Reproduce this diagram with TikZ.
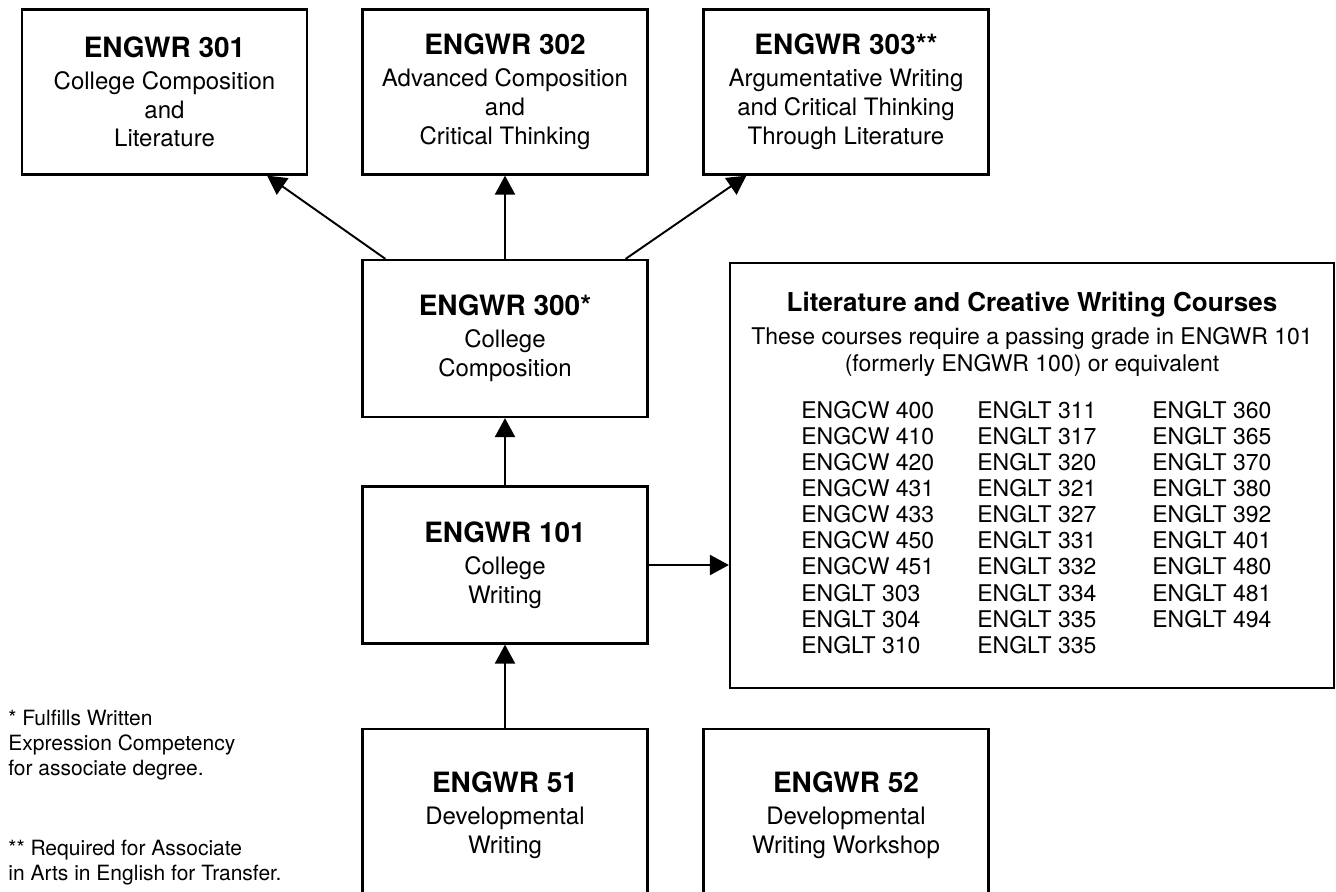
\documentclass[tikz,border=0pt]{standalone}
\usepackage{fontspec}
\setmainfont{TeX Gyre Heros}
\usetikzlibrary{calc,arrows.meta}
\def\pxfont#1#2{\fontsize{#1}{#2}\selectfont}
\def\ctitle#1{{\pxfont{15.93}{18}\bfseries #1}\\[1.5pt]}
\tikzset{
	course/.style={draw, line width=1.3pt, minimum width=5.7cm, inner sep=0pt, align=center, font=\pxfont{13.66}{16.5}},
	toprow/.style={course, minimum height=3.3cm},
	midrow/.style={course, minimum height=3.14cm},
	lowrow/.style={course, minimum height=3.44cm},
	prereq/.style={line width=1.1pt, -{Triangle[length=10.8pt,width=11.4pt]}},
	listitem/.style={anchor=west, inner sep=0pt, font=\pxfont{13.09}{14.85}},
	footnote/.style={anchor=west, inner sep=0pt, align=left, font=\pxfont{11.95}{14.2}}
}

\begin{document}
\begin{tikzpicture}[x=0.02cm, y=-0.02cm]
		%%%%% START %%%%%
		\useasboundingbox (0, 0) rectangle (1336, 892);
		
		\node[toprow] (e301) at (164.5, 92) {\ctitle{ENGWR 301}College Composition\\and\\Literature};
		\node[toprow] (e302) at (505, 92) {\ctitle{ENGWR 302}Advanced Composition\\and\\Critical Thinking};
		\node[toprow] (e303) at (846, 92) {\ctitle{ENGWR 303**}Argumentative Writing\\and Critical Thinking\\Through Literature};
		
		\node[midrow] (e300) at (505, 338.5) {\ctitle{ENGWR 300*}College\\Composition};
		\node[midrow] (e101) at (505, 565) {\ctitle{ENGWR 101}College\\Writing};
		
		\node[lowrow] (e51) at (505, 815) {\ctitle{ENGWR 51}Developmental\\Writing};
		\node[lowrow] (e52) at (846, 815) {\ctitle{ENGWR 52}Developmental\\Writing Workshop};
		
		\node[draw, line width=1.3pt, minimum width=12.08cm, minimum height=8.5cm] (lit) at (1032, 475.5) {};
		\node[font=\pxfont{14.8}{17}\bfseries, inner sep=0pt] (littitle) at (1032, 305) {Literature and Creative Writing Courses};
		\node[font=\pxfont{13.09}{15.4}, align=center, inner sep=0pt] (litnote) at (1032, 351.5) {These courses require a passing grade in ENGWR 101\\(formerly ENGWR 100) or equivalent};
		
		\foreach \code [count=\i] in {ENGCW 400,ENGCW 410,ENGCW 420,ENGCW 431,ENGCW 433,ENGCW 450,ENGCW 451,ENGLT 303,ENGLT 304,ENGLT 310}
			\node[listitem] (colA-\i) at (801, {410+26.1*(\i-1)}) {\code};
		\foreach \code [count=\i] in {ENGLT 311,ENGLT 317,ENGLT 320,ENGLT 321,ENGLT 327,ENGLT 331,ENGLT 332,ENGLT 334,ENGLT 335,ENGLT 335}
			\node[listitem] (colB-\i) at (977, {410+26.1*(\i-1)}) {\code};
		\foreach \code [count=\i] in {ENGLT 360,ENGLT 365,ENGLT 370,ENGLT 380,ENGLT 392,ENGLT 401,ENGLT 480,ENGLT 481,ENGLT 494}
			\node[listitem] (colC-\i) at (1152, {410+26.1*(\i-1)}) {\code};
		
		\draw[prereq] ($(e300.north west)+(24, 0)$) -- ($(e301.south east)+(-41, 0)$);
		\draw[prereq] (e300.north) -- (e302.south);
		\draw[prereq] ($(e300.north east)+(-23, 0)$) -- ($(e303.south west)+(44, 0)$);
		\draw[prereq] (e101.north) -- (e300.south);
		\draw[prereq] (e51.north) -- (e101.south);
		\draw[prereq] (e101.east) -- (e101.east -| lit.west);
		
		\node[footnote] (fnone) at (8, 745) {* Fulfills Written\\Expression Competency\\for associate degree.};
		\node[footnote] (fntwo) at (8, 862.5) {** Required for Associate\\in Arts in English for Transfer.};
		
		%%%%% END %%%%%
\end{tikzpicture}
\end{document}
